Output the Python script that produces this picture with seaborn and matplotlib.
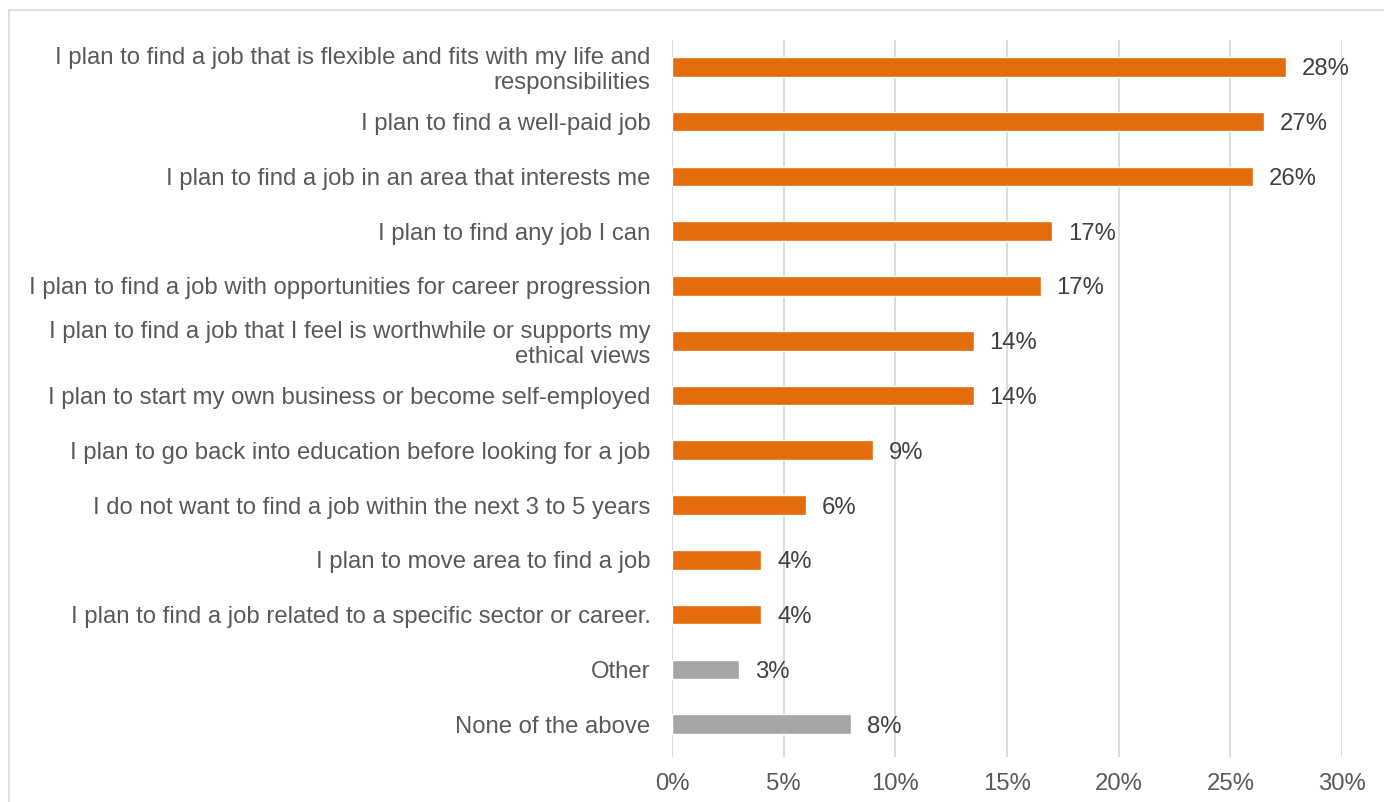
import math
import matplotlib
matplotlib.use("Agg")
import matplotlib.pyplot as plt
from matplotlib.lines import Line2D
import seaborn as sns

categories = [
    "I plan to find a job that is flexible and fits with my life and\nresponsibilities",
    "I plan to find a well-paid job",
    "I plan to find a job in an area that interests me",
    "I plan to find any job I can",
    "I plan to find a job with opportunities for career progression",
    "I plan to find a job that I feel is worthwhile or supports my\nethical views",
    "I plan to start my own business or become self-employed",
    "I plan to go back into education before looking for a job",
    "I do not want to find a job within the next 3 to 5 years",
    "I plan to move area to find a job",
    "I plan to find a job related to a specific sector or career.",
    "Other",
    "None of the above",
]
values = [27.5, 26.5, 26.0, 17.0, 16.5, 13.5, 13.5, 9.0, 6.0, 4.0, 4.0, 3.0, 8.0]
groups = ["plan"] * 11 + ["other"] * 2
x_ticks = [0, 5, 10, 15, 20, 25, 30]
x_tick_labels = [f"{t}%" for t in x_ticks]

ORANGE = "#E46C0A"
GREY_BAR = "#A6A6A6"
TEXT = "#595959"
VALUE_TEXT = "#404040"
GRID = "#D9D9D9"
FS = 17.2

sns.set_theme(style="white")
plt.rcParams["font.family"] = ["Liberation Sans", "DejaVu Sans"]

W, H, DPI = 1384, 802, 100
fig = plt.figure(figsize=(W / DPI, H / DPI), dpi=DPI)
ax = fig.add_axes([672 / W, 1 - 757 / H, (1342 - 672) / W, (757 - 40) / H])

palette = [ORANGE if g == "plan" else GREY_BAR for g in groups]
sns.barplot(x=values, y=categories, hue=categories, palette=palette,
            legend=False, orient="h", width=0.36, saturation=1,
            ax=ax, zorder=3)

ax.set_xlim(0, 30)
ax.set_ylim(12.6, -0.49)
ax.set_xticks(x_ticks)
ax.set_xticklabels(x_tick_labels)
ax.xaxis.grid(True, color=GRID, linewidth=1.3, zorder=0)
ax.yaxis.grid(False)
for s in ax.spines.values():
    s.set_visible(False)
ax.tick_params(axis="both", length=0, labelsize=FS, colors=TEXT)
ax.tick_params(axis="x", pad=11.5)
ax.tick_params(axis="y", pad=15.5)
for lbl in ax.get_yticklabels():
    lbl.set_linespacing(1.18)
ax.set_xlabel("")
ax.set_ylabel("")

for i, v in enumerate(values):
    ax.annotate(f"{math.floor(v + 0.5)}%", xy=(v, i), xytext=(16, 0),
                textcoords="offset pixels", va="center_baseline", ha="left",
                fontsize=FS, color=VALUE_TEXT)

# thin frame along the top and left edges of the chart area
fig.add_artist(Line2D([9 / W, 1], [1 - 10 / H, 1 - 10 / H], color=GRID, lw=1.2,
                      transform=fig.transFigure))
fig.add_artist(Line2D([9 / W, 9 / W], [0, 1 - 10 / H], color=GRID, lw=1.2,
                      transform=fig.transFigure))

fig.savefig("out.png", dpi=DPI)
